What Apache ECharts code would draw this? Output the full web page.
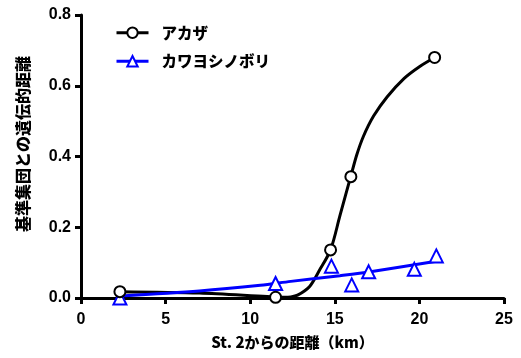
<!DOCTYPE html>
<html>
<head>
<meta charset="utf-8">
<script src="https://cdn.jsdelivr.net/npm/echarts@6/dist/echarts.min.js"></script>
<style>
  html, body { margin: 0; padding: 0; background: #fff; }
  #chart { width: 521px; height: 358px; }
</style>
</head>
<body>
<div id="chart"></div>
<script>
// Sampling sites: distance from St. 2 (km) and genetic distance
const akazaX = [2.3, 11.5, 14.75, 15.95, 20.9];
const akazaY = [0.018, 0.002, 0.136, 0.343, 0.68];

const kawaX = [2.3, 11.5, 14.8, 16.0, 17.0, 19.7, 21.0];
const kawaY = [0.0, 0.041, 0.09, 0.037, 0.074, 0.081, 0.119];

// Fitted trend curves
const akazaCurveX = [2.3, 7.0, 11.0, 12.0, 12.4, 12.8, 13.5, 14.1, 14.75, 15.3, 15.95, 16.3, 16.7, 17.3, 18.1, 19.1, 20.0, 20.9];
const akazaCurveY = [0.018, 0.014, 0.004, 0.002, 0.003, 0.008, 0.032, 0.079, 0.136, 0.232, 0.345, 0.405, 0.458, 0.515, 0.569, 0.621, 0.654, 0.68];

const kawaCurveX = [2.3, 7.0, 10.6, 12.4, 15.3, 17.1, 21.0];
const kawaCurveY = [0.006, 0.02, 0.036, 0.047, 0.063, 0.074, 0.104];

const xTicks = [0, 5, 10, 15, 20, 25];
const yTicks = [0.0, 0.2, 0.4, 0.6, 0.8];

const seriesNames = ['アカザ', 'カワヨシノボリ'];
const xTitle = 'St. 2からの距離（km）';
const yTitle = '基準集団との遺伝的距離';

const zip = (xs, ys) => xs.map((x, i) => [x, ys[i]]);

const BLACK = '#000000';
const BLUE = '#0000ff';
const numFont = 'Liberation Sans, Arial, sans-serif';
const jpFont = '"Noto Sans CJK JP", sans-serif';

const chart = echarts.init(document.getElementById('chart'), null, { renderer: 'canvas' });

const axisCommon = {
  axisLine: { show: true, onZero: false, lineStyle: { color: BLACK, width: 3 } },
  axisTick: { show: true, inside: false, length: 6, lineStyle: { color: BLACK, width: 3 } },
  splitLine: { show: false },
  axisLabel: { color: BLACK, fontFamily: numFont, fontWeight: 'bold', fontSize: 16 }
};

chart.setOption({
  animation: false,
  backgroundColor: '#ffffff',
  grid: { left: 81, right: 17, top: 15, bottom: 60, containLabel: false },
  xAxis: Object.assign({}, axisCommon, {
    type: 'value',
    min: xTicks[0],
    max: xTicks[xTicks.length - 1],
    interval: xTicks[1] - xTicks[0],
    name: xTitle,
    nameLocation: 'middle',
    nameGap: 37,
    nameTextStyle: { color: BLACK, fontFamily: jpFont, fontWeight: 900, fontSize: 15 },
    axisLabel: Object.assign({}, axisCommon.axisLabel, { margin: 14 })
  }),
  yAxis: Object.assign({}, axisCommon, {
    type: 'value',
    min: yTicks[0],
    max: yTicks[yTicks.length - 1],
    interval: yTicks[1] - yTicks[0],
    axisLabel: Object.assign({}, axisCommon.axisLabel, {
      margin: 10,
      formatter: v => v.toFixed(1)
    })
  }),
  legend: {
    data: seriesNames,
    orient: 'vertical',
    left: 115,
    top: 25,
    padding: 0,
    itemGap: 13,
    itemWidth: 32,
    itemHeight: 13,
    textStyle: { color: BLACK, fontFamily: jpFont, fontWeight: 900, fontSize: 15.5, padding: [0, 0, 0, 8] },
    lineStyle: { opacity: 1, width: 3 }
  },
  graphic: [{
    type: 'text',
    x: 23,
    y: 144,
    rotation: Math.PI / 2,
    style: {
      text: yTitle,
      fill: BLACK,
      fontFamily: jpFont,
      fontWeight: 900,
      fontSize: 16,
      align: 'center',
      verticalAlign: 'middle'
    }
  }],
  series: [
    {
      name: seriesNames[0] + ' curve',
      type: 'line',
      data: zip(akazaCurveX, akazaCurveY),
      smooth: 0.3,
      showSymbol: false,
      symbol: 'none',
      lineStyle: { color: BLACK, width: 3 },
      z: 2
    },
    {
      name: seriesNames[1] + ' curve',
      type: 'line',
      data: zip(kawaCurveX, kawaCurveY),
      smooth: 0.3,
      showSymbol: false,
      symbol: 'none',
      lineStyle: { color: BLUE, width: 3 },
      z: 2
    },
    {
      name: seriesNames[0],
      type: 'line',
      data: zip(akazaX, akazaY),
      symbol: 'emptyCircle',
      symbolSize: 11,
      itemStyle: { color: BLACK, borderColor: BLACK, borderWidth: 4 },
      lineStyle: { color: BLACK, width: 3, opacity: 0 },
      z: 4
    },
    {
      name: seriesNames[1],
      type: 'line',
      data: zip(kawaX, kawaY),
      symbol: 'emptyTriangle',
      symbolSize: 13,
      itemStyle: { color: BLUE, borderColor: BLUE, borderWidth: 3.5 },
      lineStyle: { color: BLUE, width: 3, opacity: 0 },
      z: 3
    }
  ]
});
</script>
</body>
</html>
